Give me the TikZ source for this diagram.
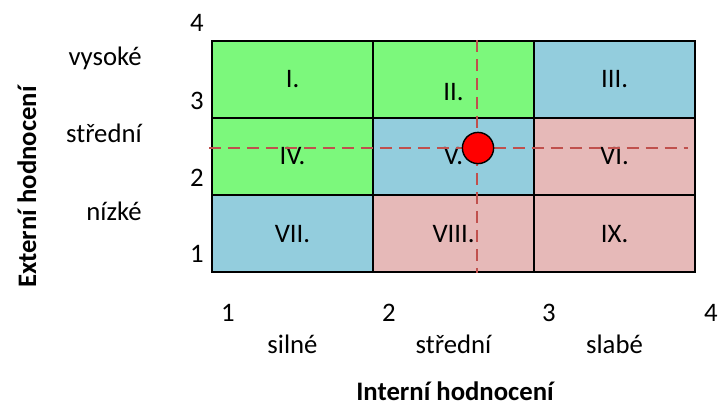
\documentclass[tikz,border=0pt]{standalone}
\usepackage{fontspec}
\setmainfont{Carlito}
\usetikzlibrary{positioning}
\definecolor{cellgreen}{HTML}{7CF87C}
\definecolor{cellblue}{HTML}{93CDDD}
\definecolor{cellred}{HTML}{E6B9B8}
\definecolor{guide}{HTML}{C0504D}
\tikzset{
  cell/.style={draw, line width=1.3pt, minimum width=4.025cm, minimum height=1.925cm,
    inner sep=0pt, outer sep=0pt, font=\fontsize{19}{23}\selectfont},
  greencell/.style={cell, fill=cellgreen},
  bluecell/.style={cell, fill=cellblue},
  redcell/.style={cell, fill=cellred},
  txt/.style={inner sep=0pt, font=\fontsize{19}{23}\selectfont},
  axisnum/.style={txt, anchor=base},
  rowlabel/.style={txt, anchor=base east},
  collabel/.style={txt, anchor=base},
  axistitle/.style={txt, anchor=base, font=\fontsize{19}{23}\selectfont\bfseries},
  guideline/.style={draw=guide, line width=1.9pt, dash pattern=on 8.5pt off 5pt},
  marker/.style={circle, draw, line width=1pt, fill=red, minimum size=0.78cm, inner sep=0pt}
}

\begin{document}
\begin{tikzpicture}[x=0.025cm, y=-0.025cm, node distance=0pt]
  \useasboundingbox (0,0) rectangle (720,405);

  % 3x3 matrix of cells
  \node[greencell] (c11) at (292.5,79.5) {I.};
  \node[greencell, right=of c11] (c12) {};
  \node[bluecell, right=of c12] (c13) {III.};
  \node[greencell, below=of c11] (c21) {IV.};
  \node[bluecell, right=of c21] (c22) {V.};
  \node[redcell, right=of c22] (c23) {VI.};
  \node[bluecell, below=of c21] (c31) {VII.};
  \node[redcell, right=of c31] (c32) {VIII.};
  \node[redcell, right=of c32] (c33) {IX.};
  \node[txt] (l12) at ([yshift=-0.31cm]c12.center) {II.};

  % position lines and the point
  \coordinate (vtop) at (477,40);
  \coordinate (vbot) at (477,273);
  \coordinate (hleft) at (209,148);
  \coordinate (hright) at (688,148);
  \draw[guideline] (vtop) -- (vbot);
  \draw[guideline] (hleft) -- (hright);
  \node[marker] (pos) at (478,148) {};

  % vertical scale
  \node[axisnum] (y4) at (197,32) {4};
  \node[axisnum] (y3) at (197,110) {3};
  \node[axisnum] (y2) at (197,187) {2};
  \node[axisnum] (y1) at (197,263) {1};
  \node[rowlabel] (high) at (142,66) {vysoké};
  \node[rowlabel] (mid) at (142,143) {střední};
  \node[rowlabel] (low) at (142,221) {nízké};
  \node[axistitle, rotate=90] (ext) at (36,187) {Externí hodnocení};

  % horizontal scale
  \node[axisnum] (x1) at (228,321) {1};
  \node[axisnum] (x2) at (389,321) {2};
  \node[axisnum] (x3) at (549,321) {3};
  \node[axisnum] (x4) at (711,321) {4};
  \node[collabel] (strong) at (292.5,353) {silné};
  \node[collabel] (medium) at (453.5,353) {střední};
  \node[collabel] (weak) at (614.5,353) {slabé};
  \node[axistitle] (int) at (455,400) {Interní hodnocení};
\end{tikzpicture}
\end{document}
